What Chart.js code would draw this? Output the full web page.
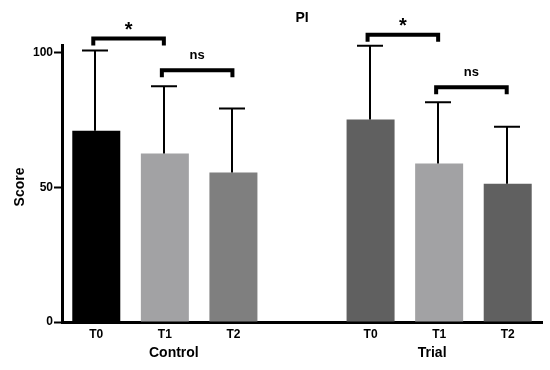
<!DOCTYPE html>
<html lang="en">
<head>
  <meta charset="UTF-8" />
  <title>PI Score</title>
  <script src="https://cdn.jsdelivr.net/npm/chart.js"></script>
  <style>
    html, body { margin: 0; padding: 0; background: #fff; }
    #wrap { width: 550px; height: 370px; }
  </style>
</head>
<body>
  <div id="wrap"><canvas id="piChart" width="550" height="370"></canvas></div>

  <script>
    // data
    const categories = ['T0', 'T1', 'T2', '', 'T0', 'T1', 'T2'];
    const groups = ['Control', 'Trial'];
    const groupCenters = [1, 5];           // category index under which each group name sits
    const means = [71.0, 62.6, 55.5, null, 75.2, 58.9, 51.4];
    const sds = [29.9, 25.0, 23.8, null, 27.4, 22.7, 21.1];
    const yTicks = [0, 50, 100];
    // significance brackets: from bar, to bar, height (score units), label
    const sigFrom = [0, 1, 4, 5];
    const sigTo = [1, 2, 5, 6];
    const sigLevel = [105.3, 93.5, 106.7, 87.2];
    const sigLabel = ['*', 'ns', '*', 'ns'];

    const barColors = ['#000000', '#a2a2a4', '#7f7f7f', '#ffffff', '#606060', '#a2a2a4', '#606060'];
    const FONT = '"Liberation Sans", Arial, sans-serif';

    const extras = {
      id: 'extras',
      afterDatasetsDraw(chart) {
        const ctx = chart.ctx;
        const x = chart.scales.x, y = chart.scales.y;
        ctx.save();
        ctx.strokeStyle = '#000';
        ctx.fillStyle = '#000';

        // upper error bars
        ctx.lineWidth = 2;
        means.forEach((m, i) => {
          if (m === null) return;
          const cx = Math.round(x.getPixelForValue(i)) - 1;
          const y0 = y.getPixelForValue(m);
          const y1 = y.getPixelForValue(m + sds[i]);
          ctx.beginPath();
          ctx.moveTo(cx, y0);
          ctx.lineTo(cx, y1);
          ctx.moveTo(cx - 13, y1);
          ctx.lineTo(cx + 13, y1);
          ctx.stroke();
        });

        // brackets
        ctx.lineWidth = 4;
        ctx.lineJoin = 'miter';
        ctx.textAlign = 'center';
        sigFrom.forEach((f, k) => {
          const x0 = x.getPixelForValue(f) - 3;
          const x1 = x.getPixelForValue(sigTo[k]) - 1;
          const yb = y.getPixelForValue(sigLevel[k]);
          ctx.beginPath();
          ctx.moveTo(x0, yb + 7);
          ctx.lineTo(x0, yb);
          ctx.lineTo(x1, yb);
          ctx.lineTo(x1, yb + 7);
          ctx.stroke();
          const star = sigLabel[k] === '*';
          ctx.font = star ? 'bold 20px ' + FONT : 'bold 13px ' + FONT;
          ctx.textBaseline = 'middle';
          ctx.fillText(sigLabel[k], (x0 + x1) / 2, star ? yb - 8 : yb - 15);
        });

        // group names
        ctx.font = 'bold 14px ' + FONT;
        groups.forEach((g, i) => {
          ctx.fillText(g, x.getPixelForValue(groupCenters[i]) + (i === 0 ? 9 : -7), 353);
        });

        // title and y title
        ctx.font = 'bold 14px ' + FONT;
        ctx.fillText('PI', (chart.chartArea.left + chart.chartArea.right) / 2, 18);
        ctx.translate(20, 187);
        ctx.rotate(-Math.PI / 2);
        ctx.font = 'bold 14px ' + FONT;
        ctx.fillText('Score', 0, 0);
        ctx.restore();
      }
    };

    new Chart(document.getElementById('piChart'), {
      type: 'bar',
      data: {
        labels: categories,
        datasets: [{
          data: means,
          backgroundColor: barColors,
          borderWidth: 0,
          categoryPercentage: 1.0,
          barPercentage: 0.7
        }]
      },
      options: {
        responsive: false,
        animation: false,
        devicePixelRatio: 1,
        layout: { padding: { top: 45, right: 8, left: 0, bottom: 0 } },
        plugins: {
          legend: { display: false },
          tooltip: { enabled: false },
          title: { display: false }
        },
        scales: {
          x: {
            grid: { display: false, drawTicks: false },
            border: { color: '#000', width: 3 },
            ticks: {
              color: '#000',
              padding: 5,
              maxRotation: 0,
              autoSkip: false,
              font: { family: FONT, weight: 'bold', size: 12 }
            },
            afterFit(s) { s.height = 48; }
          },
          y: {
            min: 0,
            max: 102.9,
            afterBuildTicks(s) { s.ticks = yTicks.map(v => ({ value: v })); },
            grid: { drawOnChartArea: false, tickLength: 8, tickColor: '#000', tickWidth: 2 },
            border: { color: '#000', width: 3 },
            ticks: {
              color: '#000',
              padding: 1,
              font: { family: FONT, weight: 'bold', size: 12 }
            },
            afterFit(s) { s.width = 62; }
          }
        }
      },
      plugins: [extras]
    });
  </script>
</body>
</html>
